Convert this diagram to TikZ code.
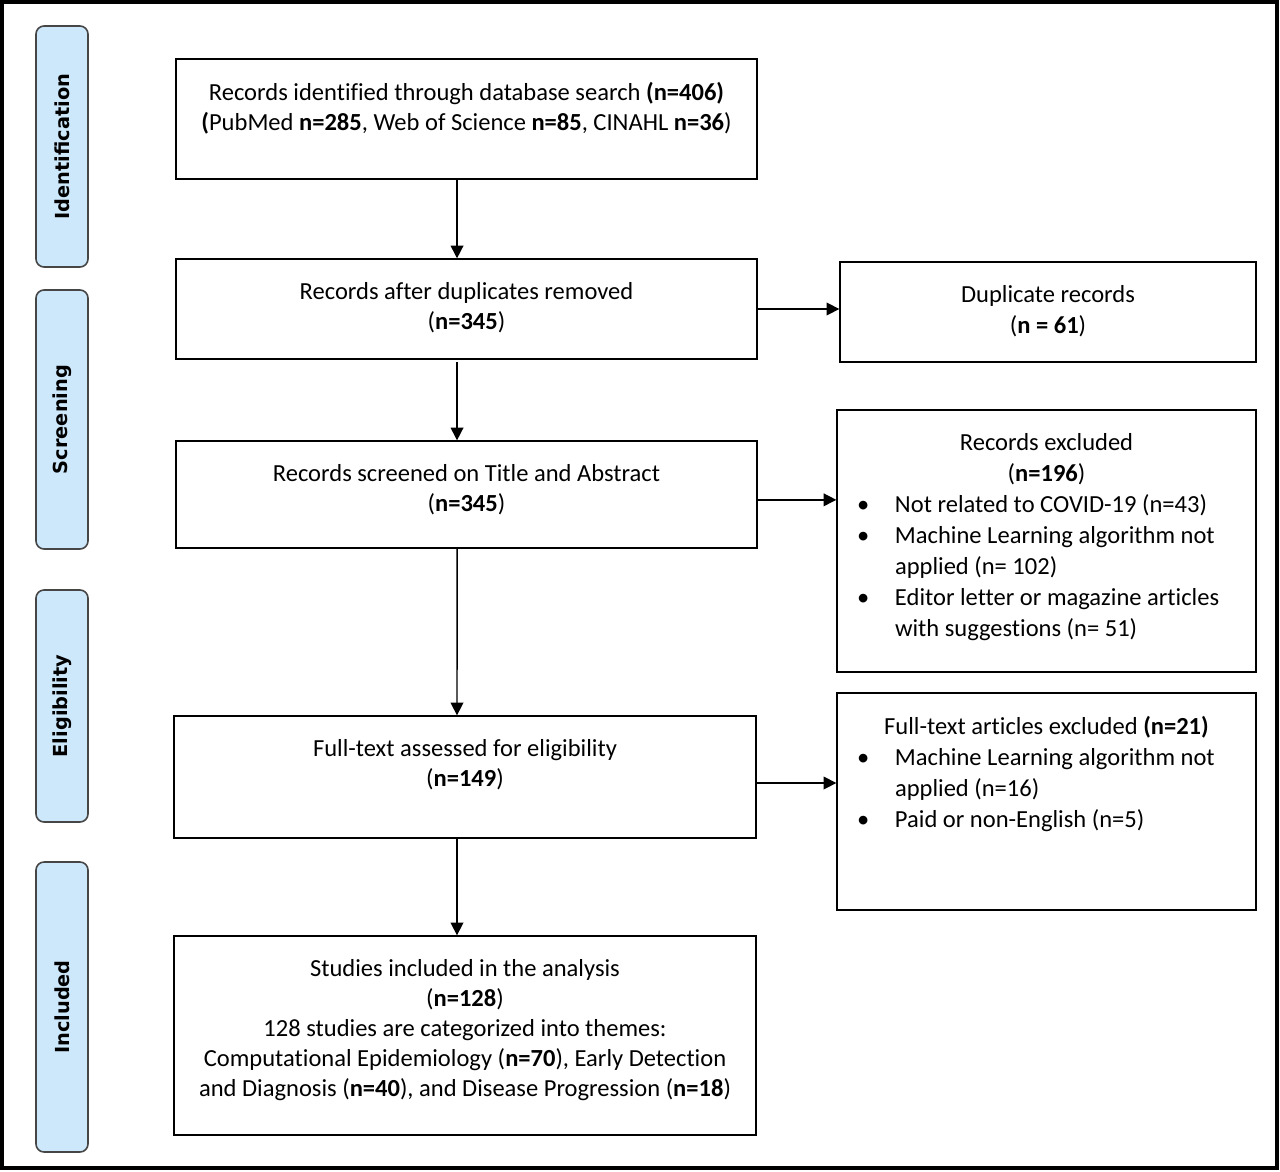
\documentclass[tikz,border=0pt]{standalone}
\usepackage{fontspec}
\setmainfont{Carlito}[Ligatures=CommonOff]
\newfontfamily\sidefont{DejaVu Sans}
\usetikzlibrary{arrows.meta,positioning}

\definecolor{sideblue}{RGB}{205,232,251}
\definecolor{sidegray}{RGB}{70,70,70}

% box text: width, height, content (top aligned)
\newcommand{\boxtxt}[3]{\parbox[c][#2][t]{#1}{\vspace*{17.25pt}\centering #3\par}}
\newcommand{\bitem}[1]{\par\raggedright\hangindent=43.5pt\hangafter=1\noindent
  \hspace*{15pt}\makebox[28.5pt][l]{\textbullet}#1}

\begin{document}
\begin{tikzpicture}[x=0.75pt,y=-0.75pt,>={Triangle[length=9.5pt,width=9.5pt]},
  flow box/.style={draw,line width=1pt,inner sep=0pt,font=\fontsize{18.4pt}{22.5pt}\selectfont},
  side box/.style={flow box,font=\fontsize{18.4pt}{23.25pt}\selectfont},
  side node/.style={draw=sidegray,fill=sideblue,rounded corners=6pt,line width=1.2pt,
    minimum height=39pt,rotate=90,font=\sidefont\bfseries\fontsize{14.5pt}{17pt}\selectfont}]

  \useasboundingbox (0,0) rectangle (1280,1171);
  \draw[line width=3pt] (2,2) rectangle (1277,1168);

  % phases
  \node[side node,minimum width=180.75pt] (ident) at (62,146.5) {Identification};
  \node[side node,minimum width=194.25pt] (screen) at (62,419.5) {Screening};
  \node[side node,minimum width=174pt] (elig) at (62,706) {Eligibility};
  \node[side node,minimum width=217.5pt] (incl) at (62,1007) {Included};

  % main flow
  \node[flow box] (found) at (466.5,119) {\boxtxt{435.75pt}{90pt}{Records identified through database search \textbf{(n=406)}\\
    \textbf{(}PubMed \textbf{n=285}, Web of Science \textbf{n=85}, CINAHL \textbf{n=36})}};
  \node[flow box] (nodup) at (466.5,309) {\boxtxt{435.75pt}{75pt}{Records after duplicates removed\\(\textbf{n=345})}};
  \node[flow box] (screened) at (466.5,494.5) {\boxtxt{435.75pt}{80.25pt}{Records screened on Title and Abstract\\(\textbf{n=345})}};
  \node[flow box] (fulltext) at (465,777) {\boxtxt{436.5pt}{91.5pt}{Full-text assessed for eligibility\\(\textbf{n=149})}};
  \node[flow box] (included) at (465,1035.5) {\boxtxt{436.5pt}{149.25pt}{Studies included in the analysis\\(\textbf{n=128})\\
    128 studies are categorized into themes:\\
    Computational Epidemiology (\textbf{n=70}), Early Detection\\
    and Diagnosis (\textbf{n=40}), and Disease Progression (\textbf{n=18})}};

  % exclusions
  \node[side box] (dup) at (1048,312) {\boxtxt{312pt}{75pt}{Duplicate records\\(\textbf{n = 61})}};
  \node[side box] (excl1) at (1046.5,541) {\boxtxt{314.25pt}{196.5pt}{Records excluded\\(\textbf{n=196})
    \bitem{Not related to COVID-19 (n=43)}
    \bitem{Machine Learning algorithm not\newline applied (n= 102)}
    \bitem{Editor letter or magazine articles\newline with suggestions (n= 51)}}};
  \node[side box] (excl2) at (1046.5,801.5) {\boxtxt{314.25pt}{162.75pt}{Full-text articles excluded \textbf{(n=21)}
    \bitem{Machine Learning algorithm not\newline applied (n=16)}
    \bitem{Paid or non-English (n=5)}}};

  \path[->,line width=1.1pt]
    ([xshift=-7.1pt]found.south) edge ([xshift=-7.1pt]nodup.north)
    ([xshift=-7.1pt,yshift=-2pt]nodup.south) edge ([xshift=-7.1pt]screened.north)
    ([xshift=-7.1pt]screened.south) edge ([xshift=-6pt]fulltext.north)
    ([xshift=-6pt]fulltext.south) edge ([xshift=-6pt]included.north)
    (nodup.east) edge (nodup.east -| dup.west)
    ([yshift=-4pt]screened.east) edge ([yshift=-4pt]screened.east -| excl1.west)
    ([yshift=-4.5pt]fulltext.east) edge ([yshift=-4.5pt]fulltext.east -| excl2.west);
\end{tikzpicture}
\end{document}
